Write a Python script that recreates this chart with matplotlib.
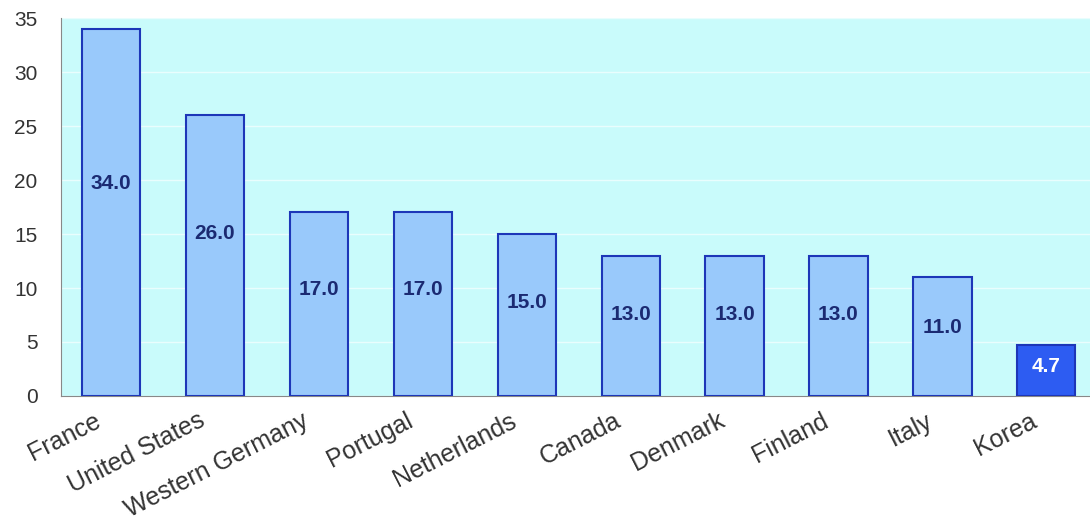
import matplotlib
matplotlib.use('Agg')
import matplotlib.pyplot as plt
from matplotlib.transforms import ScaledTranslation

countries = ['France', 'United States', 'Western Germany', 'Portugal', 'Netherlands',
             'Canada', 'Denmark', 'Finland', 'Italy', 'Korea']
values = [34.0, 26.0, 17.0, 17.0, 15.0, 13.0, 13.0, 13.0, 11.0, 4.7]
highlight = 'Korea'

plt.rcParams['font.family'] = ['Liberation Sans', 'DejaVu Sans']

fig = plt.figure(figsize=(10.9, 5.21), dpi=100)
ax = fig.add_axes([0.056, 0.24, 0.944, 0.725])
ax.set_facecolor('#c9fbfb')

x = list(range(len(countries)))
colors = ['#2d5cf2' if c == highlight else '#99c9fb' for c in countries]
ax.bar(x, values, width=0.56, color=colors, edgecolor='#1d36b8', linewidth=1.5, zorder=3)

# etiquetas de valor dentro de cada barra
for xi, v, c in zip(x, values, countries):
    tc = 'white' if c == highlight else '#1b2a72'
    ax.text(xi, v * 0.58, f'{v:.1f}', ha='center', va='center', fontsize=15,
            fontweight='bold', color=tc, zorder=4)

ax.set_ylim(0, 35)
ax.set_xlim(-0.48, 9.42)
ax.set_yticks(range(0, 36, 5))
ax.yaxis.grid(True, color='white', linewidth=1, alpha=0.6, zorder=0)
ax.set_xticks(x)
ax.set_xticklabels(countries, rotation=27, ha='right', rotation_mode='anchor')
ax.tick_params(axis='x', length=0, labelsize=18, colors='#333333', pad=9)
ax.tick_params(axis='y', length=0, labelsize=15, colors='#333333', pad=17)

offset = ScaledTranslation(-17 / 100, 0, fig.dpi_scale_trans)
for lab in ax.get_xticklabels():
    lab.set_transform(lab.get_transform() + offset)

for s in ['top', 'right']:
    ax.spines[s].set_visible(False)
ax.spines['left'].set_color('#888888')
ax.spines['bottom'].set_color('#888888')

plt.savefig('out.png')
plt.close()
